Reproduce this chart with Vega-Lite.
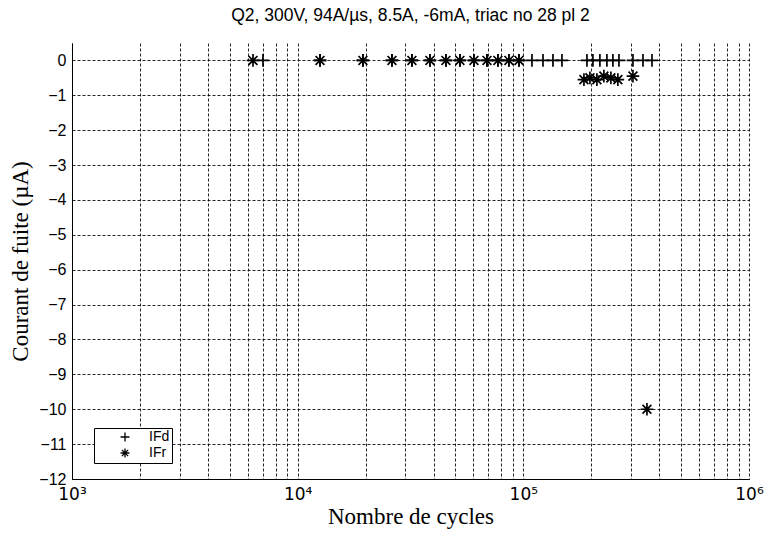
{
  "$schema": "https://vega.github.io/schema/vega-lite/v6.json",
  "width": 677,
  "height": 436,
  "autosize": {"type": "none"},
  "padding": {"left": 72, "top": 43, "right": 15, "bottom": 66},
  "background": "white",
  "title": {
    "text": "Q2, 300V, 94A/µs, 8.5A, -6mA, triac no 28 pl 2",
    "font": "Liberation Sans",
    "fontSize": 17.5,
    "fontWeight": "normal",
    "color": "#000",
    "anchor": "middle",
    "offset": 19
  },
  "config": {
    "view": {"stroke": null},
    "axis": {
      "domainColor": "#000",
      "domainWidth": 1,
      "ticks": false,
      "gridColor": "#000",
      "gridDash": [3, 2],
      "gridOpacity": 0.85,
      "gridWidth": 1,
      "labelFont": "Liberation Sans",
      "labelColor": "#000",
      "titleFont": "Liberation Serif",
      "titleFontSize": 23,
      "titleFontWeight": "normal",
      "titleColor": "#000"
    }
  },
  "data": {
    "values": [
      {"x": 7020, "y": 0, "series": "IFd"},
      {"x": 12560, "y": 0, "series": "IFd"},
      {"x": 19460, "y": 0, "series": "IFd"},
      {"x": 26170, "y": 0, "series": "IFd"},
      {"x": 32080, "y": 0, "series": "IFd"},
      {"x": 38540, "y": 0, "series": "IFd"},
      {"x": 45390, "y": 0, "series": "IFd"},
      {"x": 52360, "y": 0, "series": "IFd"},
      {"x": 60410, "y": 0, "series": "IFd"},
      {"x": 69010, "y": 0, "series": "IFd"},
      {"x": 77130, "y": 0, "series": "IFd"},
      {"x": 86270, "y": 0, "series": "IFd"},
      {"x": 95640, "y": 0, "series": "IFd"},
      {"x": 109200, "y": 0, "series": "IFd"},
      {"x": 122200, "y": 0, "series": "IFd"},
      {"x": 135300, "y": 0, "series": "IFd"},
      {"x": 148300, "y": 0, "series": "IFd"},
      {"x": 191400, "y": 0, "series": "IFd"},
      {"x": 203400, "y": 0, "series": "IFd"},
      {"x": 218400, "y": 0, "series": "IFd"},
      {"x": 234600, "y": 0, "series": "IFd"},
      {"x": 249400, "y": 0, "series": "IFd"},
      {"x": 265300, "y": 0, "series": "IFd"},
      {"x": 306000, "y": 0, "series": "IFd"},
      {"x": 339000, "y": 0, "series": "IFd"},
      {"x": 371600, "y": 0, "series": "IFd"},
      {"x": 6340, "y": 0, "series": "IFr"},
      {"x": 12560, "y": 0, "series": "IFr"},
      {"x": 19460, "y": 0, "series": "IFr"},
      {"x": 26170, "y": 0, "series": "IFr"},
      {"x": 32080, "y": 0, "series": "IFr"},
      {"x": 38540, "y": 0, "series": "IFr"},
      {"x": 45390, "y": 0, "series": "IFr"},
      {"x": 52360, "y": 0, "series": "IFr"},
      {"x": 60410, "y": 0, "series": "IFr"},
      {"x": 69010, "y": 0, "series": "IFr"},
      {"x": 77130, "y": 0, "series": "IFr"},
      {"x": 86270, "y": 0, "series": "IFr"},
      {"x": 95640, "y": 0, "series": "IFr"},
      {"x": 185600, "y": -0.55, "series": "IFr"},
      {"x": 197300, "y": -0.5, "series": "IFr"},
      {"x": 211800, "y": -0.55, "series": "IFr"},
      {"x": 227500, "y": -0.45, "series": "IFr"},
      {"x": 244300, "y": -0.5, "series": "IFr"},
      {"x": 262400, "y": -0.55, "series": "IFr"},
      {"x": 306000, "y": -0.45, "series": "IFr"},
      {"x": 353000, "y": -10, "series": "IFr"}
    ]
  },
  "mark": {"type": "point", "filled": false, "strokeWidth": 1.7, "size": 160, "opacity": 1, "color": "#000"},
  "encoding": {
    "x": {
      "field": "x",
      "type": "quantitative",
      "scale": {"type": "log", "domain": [1000, 1000000], "nice": false},
      "axis": {
        "title": "Nombre de cycles",
        "values": [1000, 2000, 3000, 4000, 5000, 6000, 7000, 8000, 9000, 10000, 20000, 30000, 40000, 50000, 60000, 70000, 80000, 90000, 100000, 200000, 300000, 400000, 500000, 600000, 700000, 800000, 900000, 1000000],
        "labelExpr": "datum.value == 1000 ? '10³' : datum.value == 10000 ? '10⁴' : datum.value == 100000 ? '10⁵' : datum.value == 1000000 ? '10⁶' : ''",
        "labelFont": "DejaVu Sans",
        "labelFontSize": 17,
        "grid": true,
        "labelPadding": 7,
        "labelOverlap": false,
        "labelFlush": false,
        "titlePadding": 3
      }
    },
    "y": {
      "field": "y",
      "type": "quantitative",
      "scale": {"domain": [-12, 0.5], "nice": false, "zero": false},
      "axis": {
        "title": "Courant de fuite (µA)",
        "values": [-12, -11, -10, -9, -8, -7, -6, -5, -4, -3, -2, -1, 0],
        "labelFontSize": 16,
        "grid": true,
        "labelPadding": 6,
        "titlePadding": 6
      }
    },
    "shape": {
      "field": "series",
      "type": "nominal",
      "scale": {
        "domain": ["IFd", "IFr"],
        "range": ["M-1,0L1,0M0,-1L0,1", "M-1,0L1,0M0,-1L0,1M-0.7,-0.7L0.7,0.7M-0.7,0.7L0.7,-0.7"]
      },
      "legend": {
        "title": null,
        "orient": "none",
        "legendX": 22,
        "legendY": 385,
        "fillColor": "white",
        "strokeColor": "#000",
        "padding": 2,
        "symbolOffset": 22,
        "symbolSize": 80,
        "symbolStrokeWidth": 1.3,
        "symbolStrokeColor": "#000",
        "labelFont": "Liberation Sans",
        "labelFontSize": 14,
        "labelColor": "#000",
        "labelOffset": 17,
        "rowPadding": 0,
        "labelExpr": "datum.label + '\u00a0\u00a0\u00a0\u00a0\u00a0\u00a0\u00a0\u00a0\u00a0'"
      }
    }
  }
}
